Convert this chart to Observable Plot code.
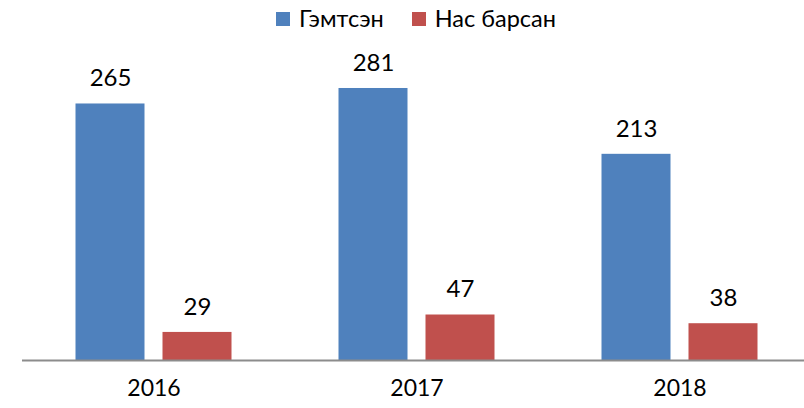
<!DOCTYPE html>
<html>
<head>
<meta charset="utf-8">
<script src="https://cdn.jsdelivr.net/npm/d3@7"></script>
<script src="https://cdn.jsdelivr.net/npm/@observablehq/plot@0.6"></script>
<style>
  html, body { margin: 0; padding: 0; background: #fff; }
  body { width: 804px; height: 408px; overflow: hidden; font-family: Lato, "Open Sans", sans-serif; }
  #legend { position: relative; height: 36px; display: flex; justify-content: center; align-items: center; padding-left: 28px; box-sizing: border-box; font-size: 23.5px; color: #000; }
  .item { display: flex; align-items: center; margin: 0 14px; }
  .sw { width: 14px; height: 14px; margin-right: 9px; margin-top: 2px; }
  #chart svg { display: block; overflow: visible; }
</style>
</head>
<body>
<div id="legend"></div>
<div id="chart"></div>
<script>
const years = ["2016", "2017", "2018"];
const series = ["Гэмтсэн", "Нас барсан"];
const injured = [265, 281, 213];
const deaths = [29, 47, 38];
const colors = ["#4F81BD", "#C0504D"];

const data = years.flatMap((y, i) => [
  {year: y, series: series[0], value: injured[i]},
  {year: y, series: series[1], value: deaths[i]}
]);

const legend = document.getElementById("legend");
series.forEach((s, i) => {
  const it = document.createElement("div");
  it.className = "item";
  const sw = document.createElement("span");
  sw.className = "sw";
  sw.style.background = colors[i];
  const tx = document.createElement("span");
  tx.textContent = s;
  it.appendChild(sw);
  it.appendChild(tx);
  legend.appendChild(it);
});

const chart = Plot.plot({
  width: 804,
  height: 372,
  marginLeft: 21.5,
  marginRight: -6.5,
  marginTop: 33.6,
  marginBottom: 48,
  style: {fontFamily: "Lato, 'Open Sans', sans-serif", background: "#fff", overflow: "visible"},
  fx: {domain: years, paddingInner: 0, paddingOuter: 0, axis: null, label: null},
  x: {domain: series, paddingInner: 0.2045, paddingOuter: 0.597, axis: null},
  y: {domain: [0, 300], axis: null},
  color: {domain: series, range: colors},
  marks: [
    Plot.barY(data, {fx: "year", x: "series", y: "value", fill: "series"}),
    Plot.text(data, {fx: "year", x: "series", y: "value", text: d => String(d.value), dy: -25.5, fontSize: 24, fill: "#000"}),
    Plot.ruleY([0], {stroke: "#8c8c8c", strokeWidth: 2}),
    Plot.text(years, {fx: d => d, frameAnchor: "bottom", dy: 35.5, text: d => d, fontSize: 23, fill: "#000"})
  ]
});
document.getElementById("chart").appendChild(chart);
</script>
</body>
</html>
